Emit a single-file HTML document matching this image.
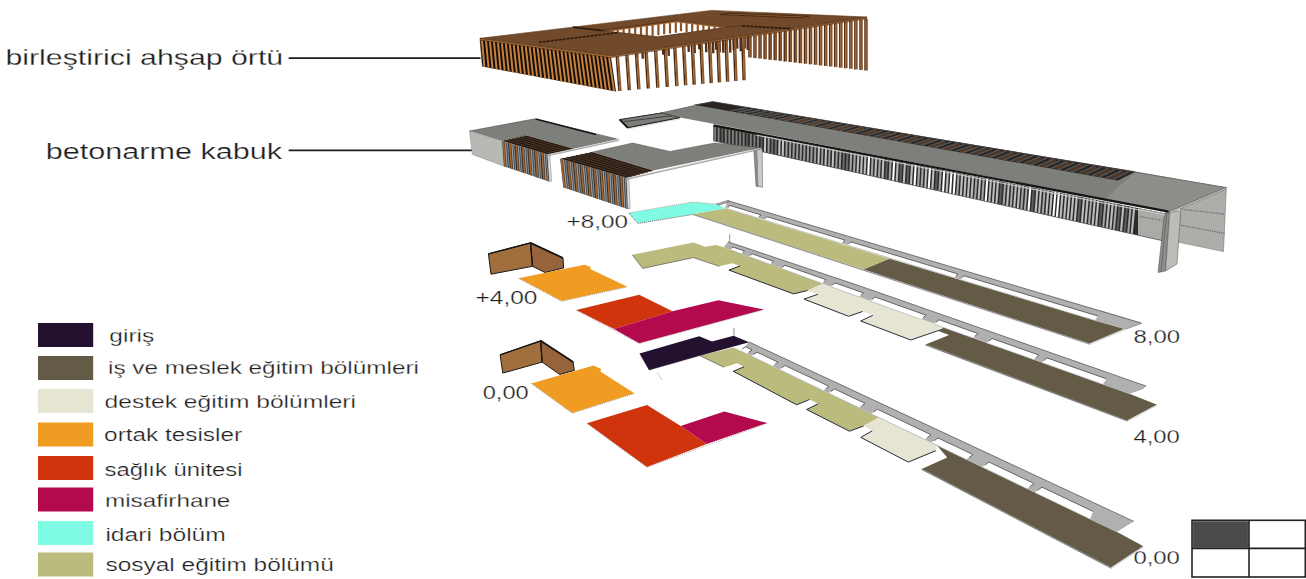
<!DOCTYPE html>
<html><head><meta charset="utf-8"><title>exploded axonometric</title>
<style>html,body{margin:0;padding:0;background:#fff;overflow:hidden}svg{display:block}</style></head><body>
<svg width="1306" height="579" viewBox="0 0 1306 579">
<rect width="1306" height="579" fill="#fff"/>
<polygon points="699.9,355.7 733.6,347.5 878.8,417.4 863.6,426.0 849.4,431.2 806.6,409.5 818.3,403.8 809.5,399.5 796.7,404.8 733.3,371.3 744.0,366.8 737.1,363.3 724.1,367.3" fill="#babb7c" />
<polyline points="699.9,355.7 724.1,367.3" fill="none" stroke="#555" stroke-width="0.7" />
<polyline points="744.0,366.8 733.3,371.3 796.7,404.8 809.5,399.5" fill="none" stroke="#2a2a3a" stroke-width="1.0" />
<polyline points="818.3,403.8 806.6,409.5 849.4,431.2 863.6,426.0" fill="none" stroke="#2a2a3a" stroke-width="1.0" />
<polygon points="878.8,417.4 936.8,445.3 935.8,450.7 908.3,462.1 860.8,437.4 872.2,430.8 863.6,426.0" fill="#e6e5d3" />
<polyline points="872.2,430.8 860.8,437.4 908.3,462.1 935.8,450.7" fill="none" stroke="#2a2a3a" stroke-width="1.0" />
<polygon points="936.8,445.3 1119.0,533.0 1143.4,546.3 1111.2,567.7 921.6,469.0 947.2,457.4" fill="#635b46" />
<polyline points="921.6,469.4 1111.2,568.2 1143.4,546.8" fill="none" stroke="#d8d8d8" stroke-width="1.4" />
<polyline points="921.6,469.2 1111.2,568.0" fill="none" stroke="#333" stroke-width="0.6" />
<polygon points="748.9,341.9 1097.0,504.2 1097.0,522.4 741.0,351.1" fill="#b0b0b0" />
<polygon points="745.5,346.8 752.0,349.9 746.5,353.7 740.0,350.6" fill="#fff" />
<polyline points="742.2,349.1 745.5,346.8 752.0,349.9 748.7,352.2" fill="none" stroke="#4a4a4a" stroke-width="0.8" />
<line x1="740.0" y1="350.6" x2="746.5" y2="353.7" stroke="#999" stroke-width="0.5" />
<polygon points="757.0,352.2 778.0,362.2 772.4,366.2 751.4,356.1" fill="#fff" />
<polyline points="753.7,354.5 757.0,352.2 778.0,362.2 774.7,364.6" fill="none" stroke="#4a4a4a" stroke-width="0.8" />
<line x1="751.4" y1="356.1" x2="772.4" y2="366.2" stroke="#999" stroke-width="0.5" />
<polygon points="785.0,365.5 829.0,386.3 823.3,390.7 779.3,369.5" fill="#fff" />
<polyline points="781.6,367.9 785.0,365.5 829.0,386.3 825.6,388.9" fill="none" stroke="#4a4a4a" stroke-width="0.8" />
<line x1="779.3" y1="369.5" x2="823.3" y2="390.7" stroke="#999" stroke-width="0.5" />
<polygon points="834.5,388.9 865.0,403.4 858.9,407.8 828.4,393.1" fill="#fff" />
<polyline points="830.9,391.5 834.5,388.9 865.0,403.4 861.4,406.1" fill="none" stroke="#4a4a4a" stroke-width="0.8" />
<line x1="828.4" y1="393.1" x2="858.9" y2="407.8" stroke="#999" stroke-width="0.5" />
<polygon points="877.5,409.3 931.0,434.7 924.7,439.5 871.2,413.7" fill="#fff" />
<polyline points="873.7,412.0 877.5,409.3 931.0,434.7 927.2,437.5" fill="none" stroke="#4a4a4a" stroke-width="0.8" />
<line x1="871.2" y1="413.7" x2="924.7" y2="439.5" stroke="#999" stroke-width="0.5" />
<polygon points="938.0,438.0 973.0,454.6 966.3,459.5 931.3,442.6" fill="#fff" />
<polyline points="934.0,440.8 938.0,438.0 973.0,454.6 969.0,457.5" fill="none" stroke="#4a4a4a" stroke-width="0.8" />
<line x1="931.3" y1="442.6" x2="966.3" y2="459.5" stroke="#999" stroke-width="0.5" />
<polygon points="989.0,462.1 1034.0,483.5 1027.0,488.7 982.0,467.0" fill="#fff" />
<polyline points="984.8,465.1 989.0,462.1 1034.0,483.5 1029.8,486.6" fill="none" stroke="#4a4a4a" stroke-width="0.8" />
<line x1="982.0" y1="467.0" x2="1027.0" y2="488.7" stroke="#999" stroke-width="0.5" />
<polygon points="1042.0,487.2 1097.0,513.3 1089.6,518.9 1034.6,492.4" fill="#fff" />
<polyline points="1037.6,490.3 1042.0,487.2 1097.0,513.3 1092.6,516.6" fill="none" stroke="#4a4a4a" stroke-width="0.8" />
<line x1="1034.6" y1="492.4" x2="1089.6" y2="518.9" stroke="#999" stroke-width="0.5" />
<polygon points="1096.0,503.8 1133.6,521.6 1116.4,532.2 1119.0,533.0 1090.0,519.5" fill="#b0b0b0" />
<polyline points="748.9,341.9 1097.0,504.2 1133.9,521.4" fill="none" stroke="#5a5a5a" stroke-width="0.8" />
<polygon points="639.5,353.5 699.1,336.2 712.0,341.4 733.6,335.7 749.2,342.3 699.9,355.7 649.0,370.2" fill="#24112f" />
<polyline points="639.5,353.5 649.0,370.4 699.9,355.9" fill="none" stroke="#999" stroke-width="0.6" stroke-dasharray="1 1"/>
<line x1="734.0" y1="327.8" x2="734.0" y2="336.0" stroke="#777" stroke-width="0.8" />
<line x1="657.0" y1="372.0" x2="662.0" y2="380.0" stroke="#aaa" stroke-width="0.6" />
<polygon points="632.3,254.8 693.4,242.5 705.2,246.7 716.1,244.9 723.7,247.3 823.0,283.7 807.5,290.5 793.6,293.9 728.9,270.1 740.1,265.9 732.3,263.2 719.4,266.3 693.4,257.6 642.7,268.4" fill="#babb7c" />
<polyline points="632.3,254.8 642.7,268.4 693.4,257.6 719.4,266.3" fill="none" stroke="#555" stroke-width="0.7" />
<polyline points="740.1,265.9 728.9,270.1 793.6,293.9 807.5,290.5" fill="none" stroke="#2a2a3a" stroke-width="1.0" />
<polygon points="823.0,283.7 943.6,327.5 910.8,340.0 860.7,321.0 872.8,315.3 862.5,311.5 848.6,316.3 804.0,299.1 817.8,294.3 807.5,290.5" fill="#e6e5d3" />
<polyline points="817.8,294.3 804.0,299.1 848.6,316.3 862.5,311.5" fill="none" stroke="#2a2a3a" stroke-width="1.0" />
<polyline points="872.8,315.3 860.7,321.0 910.8,340.0 943.6,328.7" fill="none" stroke="#2a2a3a" stroke-width="1.0" />
<polygon points="943.6,327.5 1131.2,394.4 1157.1,404.7 1127.4,420.7 925.5,344.6 949.2,335.1 938.9,331.3" fill="#635b46" />
<polyline points="925.5,345.0 1127.4,421.1 1157.1,405.1" fill="none" stroke="#d8d8d8" stroke-width="1.4" />
<polyline points="925.5,344.8 1127.4,420.9" fill="none" stroke="#333" stroke-width="0.6" />
<polygon points="728.0,241.8 860.0,286.0 1108.0,372.7 1108.0,386.1 860.0,297.3 723.7,247.3" fill="#b0b0b0" />
<polygon points="733.0,247.1 744.5,251.1 741.4,253.8 729.9,249.6" fill="#fff" />
<polyline points="731.2,248.6 733.0,247.1 744.5,251.1 742.7,252.7" fill="none" stroke="#4a4a4a" stroke-width="0.8" />
<line x1="729.9" y1="249.6" x2="741.4" y2="253.8" stroke="#999" stroke-width="0.5" />
<polygon points="752.0,253.8 773.5,261.3 770.2,264.4 748.7,256.5" fill="#fff" />
<polyline points="750.0,255.4 752.0,253.8 773.5,261.3 771.5,263.1" fill="none" stroke="#4a4a4a" stroke-width="0.8" />
<line x1="748.7" y1="256.5" x2="770.2" y2="264.4" stroke="#999" stroke-width="0.5" />
<polygon points="785.0,265.3 826.0,279.7 822.2,283.5 781.2,268.4" fill="#fff" />
<polyline points="782.7,267.2 785.0,265.3 826.0,279.7 823.7,282.0" fill="none" stroke="#4a4a4a" stroke-width="0.8" />
<line x1="781.2" y1="268.4" x2="822.2" y2="283.5" stroke="#999" stroke-width="0.5" />
<polygon points="835.0,282.9 863.5,292.9 859.0,297.0 830.5,286.5" fill="#fff" />
<polyline points="832.3,285.1 835.0,282.9 863.5,292.9 860.8,295.3" fill="none" stroke="#4a4a4a" stroke-width="0.8" />
<line x1="830.5" y1="286.5" x2="859.0" y2="297.0" stroke="#999" stroke-width="0.5" />
<polygon points="875.0,297.0 926.0,315.2 921.1,319.5 870.1,301.0" fill="#fff" />
<polyline points="872.0,299.4 875.0,297.0 926.0,315.2 923.0,317.8" fill="none" stroke="#4a4a4a" stroke-width="0.8" />
<line x1="870.1" y1="301.0" x2="921.1" y2="319.5" stroke="#999" stroke-width="0.5" />
<polygon points="939.0,319.8 978.0,333.5 972.8,337.9 933.8,324.0" fill="#fff" />
<polyline points="935.9,322.3 939.0,319.8 978.0,333.5 974.9,336.2" fill="none" stroke="#4a4a4a" stroke-width="0.8" />
<line x1="933.8" y1="324.0" x2="972.8" y2="337.9" stroke="#999" stroke-width="0.5" />
<polygon points="992.0,338.5 1039.0,355.1 1033.6,359.6 986.6,342.9" fill="#fff" />
<polyline points="988.8,341.1 992.0,338.5 1039.0,355.1 1035.8,357.8" fill="none" stroke="#4a4a4a" stroke-width="0.8" />
<line x1="986.6" y1="342.9" x2="1033.6" y2="359.6" stroke="#999" stroke-width="0.5" />
<polygon points="1047.0,357.9 1108.0,379.4 1102.5,384.2 1041.5,362.4" fill="#fff" />
<polyline points="1043.7,360.6 1047.0,357.9 1108.0,379.4 1104.7,382.3" fill="none" stroke="#4a4a4a" stroke-width="0.8" />
<line x1="1041.5" y1="362.4" x2="1102.5" y2="384.2" stroke="#999" stroke-width="0.5" />
<polygon points="1108.0,373.0 1146.2,386.1 1142.8,389.2 1129.9,393.8 1131.2,394.4 1104.0,385.0" fill="#b0b0b0" />
<polyline points="728.0,241.8 860.0,286.0 1108.0,372.7 1146.2,386.1" fill="none" stroke="#5a5a5a" stroke-width="0.8" />
<line x1="729.7" y1="234.3" x2="729.7" y2="242.0" stroke="#777" stroke-width="0.8" />
<polygon points="628.7,212.9 692.6,202.0 717.4,204.2 725.7,208.6 692.6,214.3 637.9,223.3" fill="#7ffbe3" />
<polyline points="628.7,212.9 637.9,223.4 692.6,214.5" fill="none" stroke="#555" stroke-width="0.8" stroke-dasharray="1.2 0.8"/>
<polyline points="628.7,212.9 692.6,202.0 717.4,204.2" fill="none" stroke="#a55" stroke-width="0.5" stroke-dasharray="1 1"/>
<polygon points="692.6,214.3 725.7,208.6 889.6,258.7 863.7,269.6" fill="#babb7c" />
<polygon points="889.6,258.7 1094.9,320.5 1124.7,329.1 1089.7,343.8 863.7,269.6" fill="#635b46" />
<polyline points="692.5,214.4 1089.7,344.2 1124.7,329.5" fill="none" stroke="#d8d8d8" stroke-width="1.4" />
<polyline points="692.5,214.2 1089.7,344.0" fill="none" stroke="#444" stroke-width="0.5" />
<polygon points="727.3,200.5 1101.0,311.1 1101.0,322.4 725.2,208.0" fill="#b0b0b0" />
<polygon points="730.0,205.5 761.0,214.9 757.7,217.9 726.7,208.4" fill="#fff" />
<polyline points="728.0,207.3 730.0,205.5 761.0,214.9 759.0,216.7" fill="none" stroke="#4a4a4a" stroke-width="0.8" />
<line x1="726.7" y1="208.4" x2="757.7" y2="217.9" stroke="#999" stroke-width="0.5" />
<polygon points="767.0,216.7 845.0,240.1 841.5,243.4 763.5,219.7" fill="#fff" />
<polyline points="764.9,218.5 767.0,216.7 845.0,240.1 842.9,242.1" fill="none" stroke="#4a4a4a" stroke-width="0.8" />
<line x1="763.5" y1="219.7" x2="841.5" y2="243.4" stroke="#999" stroke-width="0.5" />
<polygon points="851.0,241.9 958.0,274.0 954.3,277.7 847.3,245.1" fill="#fff" />
<polyline points="848.8,243.8 851.0,241.9 958.0,274.0 955.8,276.2" fill="none" stroke="#4a4a4a" stroke-width="0.8" />
<line x1="847.3" y1="245.1" x2="954.3" y2="277.7" stroke="#999" stroke-width="0.5" />
<polygon points="964.0,275.8 1101.0,316.9 1096.9,321.1 959.9,279.4" fill="#fff" />
<polyline points="961.5,278.0 964.0,275.8 1101.0,316.9 1098.5,319.4" fill="none" stroke="#4a4a4a" stroke-width="0.8" />
<line x1="959.9" y1="279.4" x2="1096.9" y2="321.1" stroke="#999" stroke-width="0.5" />
<polygon points="1101.0,310.5 1141.6,323.1 1124.7,329.1 1095.0,320.6" fill="#b0b0b0" />
<polyline points="727.3,200.5 1101.0,311.1 1141.6,323.1" fill="none" stroke="#5a5a5a" stroke-width="0.8" />
<polygon points="716.5,203.9 727.5,200.6 730.0,201.5 719.0,205.2" fill="#b0b0b0" stroke="#555" stroke-width="0.5" />
<polyline points="1141.6,323.4 1124.7,329.4" fill="none" stroke="#666" stroke-width="0.7" />
<polygon points="488.4,253.9 530.5,242.9 532.5,266.3 491.0,274.2" fill="#a16e3e" stroke="#1a1a1a" stroke-width="1.0" />
<polygon points="530.5,242.9 563.0,258.0 563.6,268.0 545.0,272.5 532.5,266.3" fill="#97633a" stroke="#1a1a1a" stroke-width="1.0" />
<line x1="530.5" y1="242.9" x2="563.0" y2="258.0" stroke="#151515" stroke-width="1.8" />
<line x1="488.4" y1="253.9" x2="530.5" y2="242.9" stroke="#151515" stroke-width="1.3" />
<line x1="530.5" y1="242.9" x2="532.5" y2="266.3" stroke="#151515" stroke-width="1.2" />
<polygon points="518.7,278.3 584.4,264.7 590.2,266.7 590.8,269.3 627.4,286.7 561.7,301.0" fill="#f09b22" />
<polyline points="518.7,278.5 561.7,301.4 627.4,287.1" fill="none" stroke="#8a8a8a" stroke-width="1.0" stroke-dasharray="0.7 1.3"/>
<polygon points="576.3,310.0 639.2,294.8 672.5,311.2 613.9,328.9" fill="#d0340c" />
<polygon points="613.9,328.9 672.5,311.2 718.4,300.2 763.8,309.5 639.2,343.2" fill="#b3094d" />
<polyline points="576.3,310.2 639.2,343.6 763.8,309.9" fill="none" stroke="#8a8a8a" stroke-width="1.0" stroke-dasharray="0.7 1.3"/>
<polygon points="500.1,354.9 540.7,340.8 542.1,362.1 502.8,373.1" fill="#a16e3e" stroke="#1a1a1a" stroke-width="1.0" />
<polygon points="540.7,340.8 573.2,362.1 574.3,370.4 559.8,374.5 542.1,362.1" fill="#97633a" stroke="#1a1a1a" stroke-width="1.0" />
<line x1="540.7" y1="340.8" x2="573.2" y2="362.1" stroke="#151515" stroke-width="1.8" />
<line x1="500.1" y1="354.9" x2="540.7" y2="340.8" stroke="#151515" stroke-width="1.3" />
<line x1="540.7" y1="340.8" x2="542.1" y2="362.1" stroke="#151515" stroke-width="1.2" />
<polygon points="531.4,383.4 593.5,365.6 601.2,368.9 600.4,371.6 634.3,393.2 572.2,412.9" fill="#f09b22" />
<polyline points="531.4,383.6 572.2,413.3 634.3,393.6" fill="none" stroke="#8a8a8a" stroke-width="1.0" stroke-dasharray="0.7 1.3"/>
<polygon points="586.9,423.3 647.0,405.0 680.7,426.1 706.7,444.0 647.0,467.0" fill="#d0340c" />
<polygon points="680.7,426.1 724.3,411.5 767.2,423.0 706.7,444.0" fill="#b3094d" />
<polyline points="586.9,423.5 647.0,467.4 767.2,423.4" fill="none" stroke="#8a8a8a" stroke-width="1.0" stroke-dasharray="0.7 1.3"/>
<polygon points="1180.8,208.0 1226.3,189.0 1223.5,251.6 1177.9,242.1" fill="#acaeaa" stroke="#666" stroke-width="0.5" />
<line x1="1181.5" y1="209.2" x2="1225.0" y2="214.2" stroke="#6a6a6a" stroke-width="1.3" stroke-dasharray="1.2 1.1"/>
<line x1="1180.5" y1="225.2" x2="1224.5" y2="233.4" stroke="#6a6a6a" stroke-width="1.3" stroke-dasharray="1.2 1.1"/>
<polygon points="713.3,125.6 1164.6,213.2 1162.0,240.6 713.3,140.8" fill="#2b2b2a" />
<line x1="715.1" y1="125.9" x2="715.1" y2="141.2" stroke="#7e807d" stroke-width="1.9" />
<line x1="718.7" y1="126.6" x2="718.6" y2="142.0" stroke="#7e807d" stroke-width="1.9" />
<line x1="722.3" y1="127.3" x2="722.2" y2="142.8" stroke="#5a5c59" stroke-width="1.9" />
<line x1="725.8" y1="128.0" x2="725.8" y2="143.6" stroke="#7e807d" stroke-width="1.9" />
<line x1="729.4" y1="128.7" x2="729.3" y2="144.4" stroke="#7e807d" stroke-width="1.9" />
<line x1="733.0" y1="129.4" x2="732.9" y2="145.2" stroke="#7e807d" stroke-width="1.9" />
<line x1="736.6" y1="130.1" x2="736.4" y2="145.9" stroke="#7e807d" stroke-width="1.9" />
<line x1="740.2" y1="130.8" x2="740.0" y2="146.7" stroke="#7e807d" stroke-width="1.9" />
<line x1="743.7" y1="131.5" x2="743.6" y2="147.5" stroke="#7e807d" stroke-width="1.9" />
<line x1="747.3" y1="132.2" x2="747.1" y2="148.3" stroke="#5a5c59" stroke-width="1.9" />
<line x1="750.9" y1="132.9" x2="750.7" y2="149.1" stroke="#7e807d" stroke-width="1.9" />
<line x1="754.5" y1="133.6" x2="754.3" y2="149.9" stroke="#7e807d" stroke-width="1.9" />
<line x1="758.1" y1="134.3" x2="757.8" y2="150.7" stroke="#7e807d" stroke-width="1.9" />
<line x1="761.7" y1="135.0" x2="761.4" y2="151.5" stroke="#5a5c59" stroke-width="1.9" />
<line x1="765.2" y1="135.7" x2="764.9" y2="152.3" stroke="#c4c6c3" stroke-width="2.0" />
<line x1="768.8" y1="136.4" x2="768.5" y2="153.1" stroke="#9a9c99" stroke-width="2.0" />
<line x1="772.4" y1="137.1" x2="772.1" y2="153.9" stroke="#6a6c69" stroke-width="2.0" />
<line x1="776.0" y1="137.8" x2="775.6" y2="154.7" stroke="#6a6c69" stroke-width="2.0" />
<line x1="779.6" y1="138.5" x2="779.2" y2="155.5" stroke="#c4c6c3" stroke-width="2.0" />
<line x1="783.1" y1="139.2" x2="782.7" y2="156.2" stroke="#c4c6c3" stroke-width="2.0" />
<line x1="786.7" y1="139.9" x2="786.3" y2="157.0" stroke="#9a9c99" stroke-width="2.0" />
<line x1="790.3" y1="140.5" x2="789.9" y2="157.8" stroke="#9a9c99" stroke-width="2.0" />
<line x1="793.9" y1="141.2" x2="793.4" y2="158.6" stroke="#9a9c99" stroke-width="2.0" />
<line x1="797.5" y1="141.9" x2="797.0" y2="159.4" stroke="#9a9c99" stroke-width="2.0" />
<line x1="801.1" y1="142.6" x2="800.5" y2="160.2" stroke="#9a9c99" stroke-width="2.0" />
<line x1="804.6" y1="143.3" x2="804.1" y2="161.0" stroke="#9a9c99" stroke-width="2.0" />
<line x1="808.2" y1="144.0" x2="807.7" y2="161.8" stroke="#9a9c99" stroke-width="2.0" />
<line x1="811.8" y1="144.7" x2="811.2" y2="162.6" stroke="#9a9c99" stroke-width="2.0" />
<line x1="815.4" y1="145.4" x2="814.8" y2="163.4" stroke="#9a9c99" stroke-width="2.0" />
<line x1="819.0" y1="146.1" x2="818.4" y2="164.2" stroke="#c4c6c3" stroke-width="2.0" />
<line x1="822.5" y1="146.8" x2="821.9" y2="165.0" stroke="#9a9c99" stroke-width="2.0" />
<line x1="826.1" y1="147.5" x2="825.5" y2="165.8" stroke="#c4c6c3" stroke-width="2.0" />
<line x1="829.7" y1="148.2" x2="829.0" y2="166.5" stroke="#9a9c99" stroke-width="2.0" />
<line x1="833.3" y1="148.9" x2="832.6" y2="167.3" stroke="#c4c6c3" stroke-width="2.0" />
<line x1="836.9" y1="149.6" x2="836.2" y2="168.1" stroke="#9a9c99" stroke-width="2.0" />
<line x1="840.5" y1="150.3" x2="839.7" y2="168.9" stroke="#9a9c99" stroke-width="2.0" />
<line x1="844.0" y1="151.0" x2="843.3" y2="169.7" stroke="#6a6c69" stroke-width="2.0" />
<line x1="847.6" y1="151.7" x2="846.8" y2="170.5" stroke="#6a6c69" stroke-width="2.0" />
<line x1="851.2" y1="152.4" x2="850.4" y2="171.3" stroke="#a2a4a1" stroke-width="2.1" />
<line x1="854.8" y1="153.1" x2="854.0" y2="172.1" stroke="#a2a4a1" stroke-width="2.1" />
<line x1="858.4" y1="153.8" x2="857.5" y2="172.9" stroke="#bcbebb" stroke-width="2.1" />
<line x1="861.9" y1="154.5" x2="861.1" y2="173.7" stroke="#bcbebb" stroke-width="2.1" />
<line x1="865.5" y1="155.1" x2="864.6" y2="174.5" stroke="#bcbebb" stroke-width="2.1" />
<line x1="869.1" y1="155.8" x2="868.2" y2="175.3" stroke="#ffffff" stroke-width="2.1" />
<line x1="872.7" y1="156.5" x2="871.8" y2="176.0" stroke="#a2a4a1" stroke-width="2.1" />
<line x1="876.3" y1="157.2" x2="875.3" y2="176.8" stroke="#bcbebb" stroke-width="2.1" />
<line x1="879.9" y1="157.9" x2="878.9" y2="177.6" stroke="#a2a4a1" stroke-width="2.1" />
<line x1="883.4" y1="158.6" x2="882.5" y2="178.4" stroke="#bcbebb" stroke-width="2.1" />
<line x1="887.0" y1="159.3" x2="886.0" y2="179.2" stroke="#5a5c59" stroke-width="2.1" />
<line x1="890.6" y1="160.0" x2="889.6" y2="180.0" stroke="#a2a4a1" stroke-width="2.1" />
<line x1="894.2" y1="160.7" x2="893.1" y2="180.8" stroke="#ffffff" stroke-width="2.1" />
<line x1="897.8" y1="161.4" x2="896.7" y2="181.6" stroke="#bcbebb" stroke-width="2.1" />
<line x1="901.3" y1="162.1" x2="900.3" y2="182.4" stroke="#5a5c59" stroke-width="2.1" />
<line x1="904.9" y1="162.8" x2="903.8" y2="183.2" stroke="#bcbebb" stroke-width="2.1" />
<line x1="908.5" y1="163.5" x2="907.4" y2="184.0" stroke="#5a5c59" stroke-width="2.1" />
<line x1="912.1" y1="164.2" x2="910.9" y2="184.8" stroke="#bcbebb" stroke-width="2.1" />
<line x1="915.7" y1="164.9" x2="914.5" y2="185.6" stroke="#ffffff" stroke-width="2.1" />
<line x1="919.3" y1="165.6" x2="918.1" y2="186.3" stroke="#a2a4a1" stroke-width="2.1" />
<line x1="922.8" y1="166.3" x2="921.6" y2="187.1" stroke="#a2a4a1" stroke-width="2.1" />
<line x1="926.4" y1="167.0" x2="925.2" y2="187.9" stroke="#bcbebb" stroke-width="2.1" />
<line x1="930.0" y1="167.7" x2="928.7" y2="188.7" stroke="#ffffff" stroke-width="2.1" />
<line x1="933.6" y1="168.4" x2="932.3" y2="189.5" stroke="#bcbebb" stroke-width="2.1" />
<line x1="937.2" y1="169.1" x2="935.9" y2="190.3" stroke="#5a5c59" stroke-width="2.1" />
<line x1="940.7" y1="169.7" x2="939.4" y2="191.1" stroke="#a2a4a1" stroke-width="2.1" />
<line x1="944.3" y1="170.4" x2="943.0" y2="191.9" stroke="#ffffff" stroke-width="2.1" />
<line x1="947.9" y1="171.1" x2="946.6" y2="192.7" stroke="#bcbebb" stroke-width="2.1" />
<line x1="951.5" y1="171.8" x2="950.1" y2="193.5" stroke="#ffffff" stroke-width="2.1" />
<line x1="955.1" y1="172.5" x2="953.7" y2="194.3" stroke="#ffffff" stroke-width="2.1" />
<line x1="958.6" y1="173.2" x2="957.2" y2="195.1" stroke="#a2a4a1" stroke-width="2.1" />
<line x1="962.2" y1="173.9" x2="960.8" y2="195.8" stroke="#bcbebb" stroke-width="2.1" />
<line x1="965.8" y1="174.6" x2="964.4" y2="196.6" stroke="#bcbebb" stroke-width="2.1" />
<line x1="969.4" y1="175.3" x2="967.9" y2="197.4" stroke="#bcbebb" stroke-width="2.1" />
<line x1="973.0" y1="176.0" x2="971.5" y2="198.2" stroke="#bcbebb" stroke-width="2.1" />
<line x1="976.6" y1="176.7" x2="975.0" y2="199.0" stroke="#a2a4a1" stroke-width="2.1" />
<line x1="980.1" y1="177.4" x2="978.6" y2="199.8" stroke="#bcbebb" stroke-width="2.1" />
<line x1="983.7" y1="178.1" x2="982.2" y2="200.6" stroke="#a2a4a1" stroke-width="2.1" />
<line x1="987.3" y1="178.8" x2="985.7" y2="201.4" stroke="#ffffff" stroke-width="2.1" />
<line x1="990.9" y1="179.5" x2="989.3" y2="202.2" stroke="#bcbebb" stroke-width="2.1" />
<line x1="994.5" y1="180.2" x2="992.8" y2="203.0" stroke="#bcbebb" stroke-width="2.1" />
<line x1="998.0" y1="180.9" x2="996.4" y2="203.8" stroke="#bcbebb" stroke-width="2.1" />
<line x1="1001.6" y1="181.6" x2="1000.0" y2="204.6" stroke="#5a5c59" stroke-width="2.1" />
<line x1="1005.2" y1="182.3" x2="1003.5" y2="205.4" stroke="#a2a4a1" stroke-width="2.1" />
<line x1="1008.8" y1="183.0" x2="1007.1" y2="206.1" stroke="#bcbebb" stroke-width="2.1" />
<line x1="1012.4" y1="183.7" x2="1010.7" y2="206.9" stroke="#a2a4a1" stroke-width="2.1" />
<line x1="1016.0" y1="184.3" x2="1014.2" y2="207.7" stroke="#bcbebb" stroke-width="2.1" />
<line x1="1019.5" y1="185.0" x2="1017.8" y2="208.5" stroke="#bcbebb" stroke-width="2.1" />
<line x1="1023.1" y1="185.7" x2="1021.3" y2="209.3" stroke="#a2a4a1" stroke-width="2.1" />
<line x1="1026.7" y1="186.4" x2="1024.9" y2="210.1" stroke="#a2a4a1" stroke-width="2.1" />
<line x1="1030.3" y1="187.1" x2="1028.5" y2="210.9" stroke="#ffffff" stroke-width="2.1" />
<line x1="1033.9" y1="187.8" x2="1032.0" y2="211.7" stroke="#5a5c59" stroke-width="2.1" />
<line x1="1037.4" y1="188.5" x2="1035.6" y2="212.5" stroke="#bcbebb" stroke-width="2.1" />
<line x1="1041.0" y1="189.2" x2="1039.1" y2="213.3" stroke="#bcbebb" stroke-width="2.1" />
<line x1="1044.6" y1="189.9" x2="1042.7" y2="214.1" stroke="#a2a4a1" stroke-width="2.1" />
<line x1="1048.2" y1="190.6" x2="1046.3" y2="214.9" stroke="#bcbebb" stroke-width="2.1" />
<line x1="1051.8" y1="191.3" x2="1049.8" y2="215.7" stroke="#bcbebb" stroke-width="2.1" />
<line x1="1055.4" y1="192.0" x2="1053.4" y2="216.4" stroke="#ffffff" stroke-width="2.1" />
<line x1="1058.9" y1="192.7" x2="1056.9" y2="217.2" stroke="#ffffff" stroke-width="2.1" />
<line x1="1062.5" y1="193.4" x2="1060.5" y2="218.0" stroke="#bcbebb" stroke-width="2.1" />
<line x1="1066.1" y1="194.1" x2="1064.1" y2="218.8" stroke="#bcbebb" stroke-width="2.1" />
<line x1="1069.7" y1="194.8" x2="1067.6" y2="219.6" stroke="#bcbebb" stroke-width="2.1" />
<line x1="1073.3" y1="195.5" x2="1071.2" y2="220.4" stroke="#bcbebb" stroke-width="2.1" />
<line x1="1076.8" y1="196.2" x2="1074.8" y2="221.2" stroke="#bcbebb" stroke-width="2.1" />
<line x1="1080.4" y1="196.9" x2="1078.3" y2="222.0" stroke="#5a5c59" stroke-width="2.1" />
<line x1="1084.0" y1="197.6" x2="1081.9" y2="222.8" stroke="#bcbebb" stroke-width="2.1" />
<line x1="1087.6" y1="198.3" x2="1085.4" y2="223.6" stroke="#bcbebb" stroke-width="2.1" />
<line x1="1091.2" y1="198.9" x2="1089.0" y2="224.4" stroke="#a2a4a1" stroke-width="2.1" />
<line x1="1094.8" y1="199.6" x2="1092.6" y2="225.2" stroke="#bcbebb" stroke-width="2.1" />
<line x1="1098.3" y1="200.3" x2="1096.1" y2="225.9" stroke="#bcbebb" stroke-width="2.1" />
<line x1="1101.9" y1="201.0" x2="1099.7" y2="226.7" stroke="#5a5c59" stroke-width="2.1" />
<line x1="1105.5" y1="201.7" x2="1103.2" y2="227.5" stroke="#a2a4a1" stroke-width="2.1" />
<line x1="1109.1" y1="202.4" x2="1106.8" y2="228.3" stroke="#bcbebb" stroke-width="2.1" />
<line x1="1112.7" y1="203.1" x2="1110.4" y2="229.1" stroke="#bcbebb" stroke-width="2.1" />
<line x1="1116.2" y1="203.8" x2="1113.9" y2="229.9" stroke="#a2a4a1" stroke-width="2.1" />
<line x1="1119.8" y1="204.5" x2="1117.5" y2="230.7" stroke="#5a5c59" stroke-width="2.1" />
<line x1="1123.4" y1="205.2" x2="1121.0" y2="231.5" stroke="#bcbebb" stroke-width="2.1" />
<line x1="1127.0" y1="205.9" x2="1124.6" y2="232.3" stroke="#5a5c59" stroke-width="2.1" />
<line x1="1130.6" y1="206.6" x2="1128.2" y2="233.1" stroke="#a2a4a1" stroke-width="2.1" />
<line x1="1134.2" y1="207.3" x2="1131.7" y2="233.9" stroke="#bcbebb" stroke-width="2.1" />
<polygon points="1138.0,208.1 1164.6,213.2 1162.0,240.6 1138.0,235.3" fill="#a9aba7" />
<line x1="1140.0" y1="216.5" x2="1162.0" y2="220.5" stroke="#666" stroke-width="1.1" stroke-dasharray="1.2 1.2"/>
<line x1="726.5" y1="128.4" x2="752.0" y2="133.3" stroke="#b06a2c" stroke-width="1.2" />
<line x1="713.3" y1="140.8" x2="1162.0" y2="240.6" stroke="#444" stroke-width="0.6" />
<polygon points="1164.6,213.0 1169.7,212.0 1165.6,271.0 1158.0,272.5" fill="#8c8e8a" stroke="#444" stroke-width="0.5" />
<polygon points="1169.7,212.0 1180.8,210.8 1177.0,264.0 1165.6,271.0" fill="#babcb8" stroke="#555" stroke-width="0.5" />
<line x1="1166.8" y1="213.0" x2="1161.0" y2="272.0" stroke="#555" stroke-width="0.6" />
<polygon points="661.3,112.8 712.6,101.5 1226.4,187.5 1169.7,211.4 680.3,117.5" fill="#7d7f7b" />
<polygon points="1135.9,171.6 1226.4,187.5 1169.7,211.4 1105.0,199.0" fill="#8e908c" opacity="0.9"/>
<polygon points="693.6,104.8 712.6,101.5 1135.9,171.6 1117.7,180.4" fill="#2a2522" />
<line x1="746.2" y1="107.9" x2="729.5" y2="111.2" stroke="#555553" stroke-width="1.5" />
<line x1="753.0" y1="109.0" x2="736.4" y2="112.4" stroke="#555553" stroke-width="1.5" />
<line x1="759.8" y1="110.2" x2="743.2" y2="113.6" stroke="#555553" stroke-width="1.5" />
<line x1="766.7" y1="111.3" x2="750.0" y2="114.9" stroke="#555553" stroke-width="1.5" />
<line x1="773.5" y1="112.5" x2="756.9" y2="116.1" stroke="#555553" stroke-width="1.5" />
<line x1="780.3" y1="113.6" x2="763.7" y2="117.3" stroke="#555553" stroke-width="1.5" />
<line x1="787.1" y1="114.7" x2="770.6" y2="118.5" stroke="#555553" stroke-width="1.5" />
<line x1="794.0" y1="115.9" x2="777.4" y2="119.7" stroke="#555553" stroke-width="1.5" />
<line x1="795.9" y1="116.8" x2="781.8" y2="120.1" stroke="#5e3a22" stroke-width="1.5" />
<line x1="800.8" y1="117.0" x2="784.2" y2="121.0" stroke="#555553" stroke-width="1.5" />
<line x1="807.6" y1="118.2" x2="791.1" y2="122.2" stroke="#555553" stroke-width="1.5" />
<line x1="809.5" y1="119.1" x2="795.4" y2="122.6" stroke="#5e3a22" stroke-width="1.5" />
<line x1="814.5" y1="119.3" x2="797.9" y2="123.4" stroke="#555553" stroke-width="1.5" />
<line x1="821.3" y1="120.4" x2="804.8" y2="124.6" stroke="#555553" stroke-width="1.5" />
<line x1="823.2" y1="121.4" x2="809.1" y2="125.0" stroke="#5e3a22" stroke-width="1.5" />
<line x1="828.1" y1="121.6" x2="811.6" y2="125.8" stroke="#555553" stroke-width="1.5" />
<line x1="834.9" y1="122.7" x2="818.4" y2="127.1" stroke="#555553" stroke-width="1.5" />
<line x1="836.9" y1="123.7" x2="822.8" y2="127.4" stroke="#5e3a22" stroke-width="1.5" />
<line x1="841.8" y1="123.9" x2="825.3" y2="128.3" stroke="#555553" stroke-width="1.5" />
<line x1="848.6" y1="125.0" x2="832.1" y2="129.5" stroke="#555553" stroke-width="1.5" />
<line x1="850.5" y1="126.0" x2="836.5" y2="129.8" stroke="#5e3a22" stroke-width="1.5" />
<line x1="855.4" y1="126.1" x2="839.0" y2="130.7" stroke="#555553" stroke-width="1.5" />
<line x1="862.3" y1="127.3" x2="845.8" y2="131.9" stroke="#555553" stroke-width="1.5" />
<line x1="864.2" y1="128.3" x2="850.2" y2="132.3" stroke="#5e3a22" stroke-width="1.5" />
<line x1="869.1" y1="128.4" x2="852.6" y2="133.2" stroke="#555553" stroke-width="1.5" />
<line x1="875.9" y1="129.6" x2="859.5" y2="134.4" stroke="#555553" stroke-width="1.5" />
<line x1="877.8" y1="130.6" x2="863.8" y2="134.7" stroke="#5e3a22" stroke-width="1.5" />
<line x1="882.8" y1="130.7" x2="866.3" y2="135.6" stroke="#555553" stroke-width="1.5" />
<line x1="889.6" y1="131.9" x2="873.2" y2="136.8" stroke="#555553" stroke-width="1.5" />
<line x1="891.5" y1="132.9" x2="877.5" y2="137.1" stroke="#5e3a22" stroke-width="1.5" />
<line x1="896.4" y1="133.0" x2="880.0" y2="138.0" stroke="#555553" stroke-width="1.5" />
<line x1="903.2" y1="134.1" x2="886.8" y2="139.2" stroke="#555553" stroke-width="1.5" />
<line x1="905.2" y1="135.2" x2="891.2" y2="139.6" stroke="#5e3a22" stroke-width="1.5" />
<line x1="910.1" y1="135.3" x2="893.7" y2="140.5" stroke="#555553" stroke-width="1.5" />
<line x1="916.9" y1="136.4" x2="900.5" y2="141.7" stroke="#555553" stroke-width="1.5" />
<line x1="918.8" y1="137.5" x2="904.9" y2="142.0" stroke="#5e3a22" stroke-width="1.5" />
<line x1="923.7" y1="137.6" x2="907.4" y2="142.9" stroke="#555553" stroke-width="1.5" />
<line x1="930.6" y1="138.7" x2="914.2" y2="144.1" stroke="#555553" stroke-width="1.5" />
<line x1="932.5" y1="139.8" x2="918.5" y2="144.4" stroke="#5e3a22" stroke-width="1.5" />
<line x1="937.4" y1="139.8" x2="921.0" y2="145.3" stroke="#555553" stroke-width="1.5" />
<line x1="944.2" y1="141.0" x2="927.9" y2="146.6" stroke="#555553" stroke-width="1.5" />
<line x1="946.1" y1="142.1" x2="932.2" y2="146.9" stroke="#5e3a22" stroke-width="1.5" />
<line x1="951.0" y1="142.1" x2="934.7" y2="147.8" stroke="#555553" stroke-width="1.5" />
<line x1="957.9" y1="143.3" x2="941.6" y2="149.0" stroke="#555553" stroke-width="1.5" />
<line x1="959.8" y1="144.4" x2="945.9" y2="149.3" stroke="#5e3a22" stroke-width="1.5" />
<line x1="964.7" y1="144.4" x2="948.4" y2="150.2" stroke="#555553" stroke-width="1.5" />
<line x1="971.5" y1="145.6" x2="955.2" y2="151.4" stroke="#555553" stroke-width="1.5" />
<line x1="973.5" y1="146.7" x2="959.6" y2="151.7" stroke="#5e3a22" stroke-width="1.5" />
<line x1="978.4" y1="146.7" x2="962.1" y2="152.7" stroke="#555553" stroke-width="1.5" />
<line x1="985.2" y1="147.8" x2="968.9" y2="153.9" stroke="#555553" stroke-width="1.5" />
<line x1="987.1" y1="149.0" x2="973.3" y2="154.1" stroke="#5e3a22" stroke-width="1.5" />
<line x1="992.0" y1="149.0" x2="975.8" y2="155.1" stroke="#555553" stroke-width="1.5" />
<line x1="998.8" y1="150.1" x2="982.6" y2="156.3" stroke="#555553" stroke-width="1.5" />
<line x1="1000.8" y1="151.3" x2="986.9" y2="156.6" stroke="#5e3a22" stroke-width="1.5" />
<line x1="1005.7" y1="151.3" x2="989.4" y2="157.5" stroke="#555553" stroke-width="1.5" />
<line x1="1012.5" y1="152.4" x2="996.3" y2="158.8" stroke="#555553" stroke-width="1.5" />
<line x1="1014.4" y1="153.6" x2="1000.6" y2="159.0" stroke="#5e3a22" stroke-width="1.5" />
<line x1="1019.3" y1="153.5" x2="1003.1" y2="160.0" stroke="#555553" stroke-width="1.5" />
<line x1="1026.2" y1="154.7" x2="1010.0" y2="161.2" stroke="#555553" stroke-width="1.5" />
<line x1="1028.1" y1="155.8" x2="1014.3" y2="161.4" stroke="#5e3a22" stroke-width="1.5" />
<line x1="1033.0" y1="155.8" x2="1016.8" y2="162.4" stroke="#555553" stroke-width="1.5" />
<line x1="1039.8" y1="157.0" x2="1023.6" y2="163.6" stroke="#555553" stroke-width="1.5" />
<line x1="1041.8" y1="158.1" x2="1028.0" y2="163.9" stroke="#5e3a22" stroke-width="1.5" />
<line x1="1046.6" y1="158.1" x2="1030.5" y2="164.9" stroke="#555553" stroke-width="1.5" />
<line x1="1053.5" y1="159.2" x2="1037.3" y2="166.1" stroke="#555553" stroke-width="1.5" />
<line x1="1055.4" y1="160.4" x2="1041.7" y2="166.3" stroke="#5e3a22" stroke-width="1.5" />
<line x1="1060.3" y1="160.4" x2="1044.2" y2="167.3" stroke="#555553" stroke-width="1.5" />
<line x1="1067.1" y1="161.5" x2="1051.0" y2="168.5" stroke="#555553" stroke-width="1.5" />
<line x1="1069.1" y1="162.7" x2="1055.3" y2="168.7" stroke="#5e3a22" stroke-width="1.5" />
<line x1="1074.0" y1="162.7" x2="1057.8" y2="169.7" stroke="#555553" stroke-width="1.5" />
<line x1="1080.8" y1="163.8" x2="1064.7" y2="170.9" stroke="#555553" stroke-width="1.5" />
<line x1="1082.7" y1="165.0" x2="1069.0" y2="171.2" stroke="#5e3a22" stroke-width="1.5" />
<line x1="1087.6" y1="165.0" x2="1071.5" y2="172.2" stroke="#555553" stroke-width="1.5" />
<line x1="1094.4" y1="166.1" x2="1078.4" y2="173.4" stroke="#555553" stroke-width="1.5" />
<line x1="1096.4" y1="167.3" x2="1082.7" y2="173.6" stroke="#5e3a22" stroke-width="1.5" />
<line x1="1101.3" y1="167.2" x2="1085.2" y2="174.6" stroke="#555553" stroke-width="1.5" />
<line x1="1108.1" y1="168.4" x2="1092.0" y2="175.8" stroke="#555553" stroke-width="1.5" />
<line x1="1110.1" y1="169.6" x2="1096.4" y2="176.0" stroke="#5e3a22" stroke-width="1.5" />
<line x1="1114.9" y1="169.5" x2="1098.9" y2="177.0" stroke="#555553" stroke-width="1.5" />
<line x1="1121.8" y1="170.7" x2="1105.7" y2="178.3" stroke="#555553" stroke-width="1.5" />
<line x1="1123.7" y1="171.9" x2="1110.1" y2="178.4" stroke="#5e3a22" stroke-width="1.5" />
<line x1="1128.6" y1="171.8" x2="1112.6" y2="179.5" stroke="#555553" stroke-width="1.5" />
<line x1="713.5" y1="125.4" x2="1168.7" y2="211.7" stroke="#161616" stroke-width="2.3" />
<line x1="756.0" y1="135.0" x2="1165.0" y2="215.0" stroke="#c4c6c3" stroke-width="1.2" />
<line x1="661.3" y1="112.8" x2="680.3" y2="117.5" stroke="#555" stroke-width="0.6" />
<polyline points="661.3,112.8 712.6,101.5 1226.4,187.5 1169.7,211.4" fill="none" stroke="#555" stroke-width="0.6" />
<polygon points="1169.7,211.4 1226.4,187.5 1226.4,189.1 1169.7,213.2" fill="#c9cbc7" stroke="#555" stroke-width="0.4" />
<polygon points="619.5,119.4 661.3,112.8 680.0,117.8 628.0,128.0" fill="#7d7f7b" />
<line x1="619.5" y1="119.4" x2="628.0" y2="128.0" stroke="#151515" stroke-width="1.9" />
<line x1="619.5" y1="119.6" x2="662.0" y2="112.9" stroke="#2a2a2a" stroke-width="1.0" />
<line x1="624.0" y1="121.6" x2="672.0" y2="115.8" stroke="#3a3a3a" stroke-width="0.9" />
<line x1="628.0" y1="127.6" x2="680.0" y2="117.6" stroke="#2a2a2a" stroke-width="1.1" />
<line x1="661.3" y1="112.8" x2="680.0" y2="117.8" stroke="#3a3a3a" stroke-width="0.9" />
<line x1="629.0" y1="128.8" x2="680.0" y2="118.8" stroke="#d4d4d2" stroke-width="0.8" />
<polygon points="592.3,152.0 632.7,143.0 670.0,151.4 714.5,143.0 761.1,147.8 653.4,170.6" fill="#7d7f7b" />
<polygon points="560.2,158.8 592.3,152.0 653.4,170.6 626.5,177.9" fill="#4a3322" />
<line x1="562.5" y1="158.3" x2="628.4" y2="177.4" stroke="#171412" stroke-width="0.9" />
<line x1="567.1" y1="157.3" x2="632.3" y2="176.3" stroke="#171412" stroke-width="0.9" />
<line x1="571.7" y1="156.4" x2="636.1" y2="175.3" stroke="#171412" stroke-width="0.9" />
<line x1="576.2" y1="155.4" x2="640.0" y2="174.2" stroke="#171412" stroke-width="0.9" />
<line x1="580.8" y1="154.4" x2="643.8" y2="173.2" stroke="#171412" stroke-width="0.9" />
<line x1="585.4" y1="153.5" x2="647.6" y2="172.2" stroke="#171412" stroke-width="0.9" />
<line x1="590.0" y1="152.5" x2="651.5" y2="171.1" stroke="#171412" stroke-width="0.9" />
<polygon points="560.2,158.8 626.5,177.9 627.9,208.9 563.3,187.2" fill="#2a2826" />
<line x1="561.4" y1="159.1" x2="564.5" y2="187.6" stroke="#a3632d" stroke-width="1.790099999999999" />
<line x1="563.5" y1="159.8" x2="566.5" y2="188.3" stroke="#949ca3" stroke-width="1.392299999999999" />
<line x1="565.5" y1="160.3" x2="568.5" y2="188.9" stroke="#7f868c" stroke-width="1.3259999999999992" />
<line x1="568.0" y1="161.1" x2="570.9" y2="189.8" stroke="#a3632d" stroke-width="1.790099999999999" />
<line x1="570.1" y1="161.7" x2="573.0" y2="190.5" stroke="#949ca3" stroke-width="1.392299999999999" />
<line x1="572.1" y1="162.2" x2="574.9" y2="191.1" stroke="#7f868c" stroke-width="1.3259999999999992" />
<line x1="574.7" y1="163.0" x2="577.4" y2="191.9" stroke="#a3632d" stroke-width="1.790099999999999" />
<line x1="576.8" y1="163.6" x2="579.4" y2="192.6" stroke="#949ca3" stroke-width="1.392299999999999" />
<line x1="578.8" y1="164.1" x2="581.4" y2="193.3" stroke="#7f868c" stroke-width="1.3259999999999992" />
<line x1="581.3" y1="164.9" x2="583.8" y2="194.1" stroke="#a3632d" stroke-width="1.790099999999999" />
<line x1="583.4" y1="165.5" x2="585.9" y2="194.8" stroke="#949ca3" stroke-width="1.392299999999999" />
<line x1="585.4" y1="166.1" x2="587.8" y2="195.4" stroke="#7f868c" stroke-width="1.3259999999999992" />
<line x1="587.9" y1="166.8" x2="590.3" y2="196.3" stroke="#a3632d" stroke-width="1.790099999999999" />
<line x1="590.0" y1="167.4" x2="592.4" y2="197.0" stroke="#949ca3" stroke-width="1.392299999999999" />
<line x1="592.0" y1="168.0" x2="594.3" y2="197.6" stroke="#7f868c" stroke-width="1.3259999999999992" />
<line x1="594.5" y1="168.7" x2="596.8" y2="198.4" stroke="#a3632d" stroke-width="1.790099999999999" />
<line x1="596.7" y1="169.3" x2="598.8" y2="199.1" stroke="#949ca3" stroke-width="1.392299999999999" />
<line x1="598.7" y1="169.9" x2="600.8" y2="199.8" stroke="#7f868c" stroke-width="1.3259999999999992" />
<line x1="601.2" y1="170.6" x2="603.2" y2="200.6" stroke="#a3632d" stroke-width="1.790099999999999" />
<line x1="603.3" y1="171.2" x2="605.3" y2="201.3" stroke="#949ca3" stroke-width="1.392299999999999" />
<line x1="605.3" y1="171.8" x2="607.2" y2="202.0" stroke="#7f868c" stroke-width="1.3259999999999992" />
<line x1="607.8" y1="172.5" x2="609.7" y2="202.8" stroke="#a3632d" stroke-width="1.790099999999999" />
<line x1="609.9" y1="173.1" x2="611.8" y2="203.5" stroke="#949ca3" stroke-width="1.392299999999999" />
<line x1="611.9" y1="173.7" x2="613.7" y2="204.1" stroke="#7f868c" stroke-width="1.3259999999999992" />
<line x1="614.4" y1="174.4" x2="616.1" y2="205.0" stroke="#a3632d" stroke-width="1.790099999999999" />
<line x1="616.6" y1="175.0" x2="618.2" y2="205.6" stroke="#949ca3" stroke-width="1.392299999999999" />
<line x1="618.5" y1="175.6" x2="620.1" y2="206.3" stroke="#7f868c" stroke-width="1.3259999999999992" />
<line x1="621.1" y1="176.3" x2="622.6" y2="207.1" stroke="#a3632d" stroke-width="1.790099999999999" />
<line x1="623.2" y1="176.9" x2="624.7" y2="207.8" stroke="#949ca3" stroke-width="1.392299999999999" />
<line x1="625.2" y1="177.5" x2="626.6" y2="208.5" stroke="#7f868c" stroke-width="1.3259999999999992" />
<polygon points="626.5,177.9 628.7,177.4 630.2,208.4 627.9,208.9" fill="#e2e2e0" stroke="#555" stroke-width="0.4" />
<polygon points="626.5,177.9 761.1,147.8 761.1,149.0 626.7,179.2" fill="#cfcfcd" />
<line x1="626.7" y1="179.4" x2="761.1" y2="149.2" stroke="#555" stroke-width="0.5" />
<polyline points="592.3,152.0 632.7,143.0 670.0,151.4 714.5,143.0 761.1,147.8" fill="none" stroke="#555" stroke-width="0.5" />
<polygon points="753.9,150.8 757.6,150.0 758.8,186.7 756.0,186.2" fill="#8a8c88" />
<polygon points="757.6,150.0 762.2,149.0 762.6,187.2 758.8,186.7" fill="#c9cbc7" />
<polyline points="753.9,150.8 756.0,186.2 762.6,187.2 762.2,149.0" fill="none" stroke="#555" stroke-width="0.5" />
<polygon points="469.5,131.0 535.7,118.7 619.1,139.0 573.8,148.7 526.6,135.4 502.2,141.0" fill="#7d7f7b" />
<polygon points="502.2,141.0 526.6,135.4 573.8,148.7 547.5,154.4" fill="#4a3322" />
<line x1="504.2" y1="140.5" x2="549.7" y2="153.9" stroke="#171412" stroke-width="0.9" />
<line x1="508.3" y1="139.6" x2="554.1" y2="153.0" stroke="#171412" stroke-width="0.9" />
<line x1="512.4" y1="138.7" x2="558.5" y2="152.0" stroke="#171412" stroke-width="0.9" />
<line x1="516.4" y1="137.7" x2="562.8" y2="151.1" stroke="#171412" stroke-width="0.9" />
<line x1="520.5" y1="136.8" x2="567.2" y2="150.1" stroke="#171412" stroke-width="0.9" />
<line x1="524.6" y1="135.9" x2="571.6" y2="149.2" stroke="#171412" stroke-width="0.9" />
<polygon points="469.5,131.0 502.2,141.2 504.0,166.2 472.3,154.4" fill="#b7b9b5" stroke="#8a8c88" stroke-width="0.5" />
<polygon points="502.2,141.2 547.5,154.4 549.3,181.6 504.0,166.2" fill="#2a2826" />
<line x1="503.4" y1="141.5" x2="505.2" y2="166.6" stroke="#a3632d" stroke-width="1.747285714285715" />
<line x1="505.4" y1="142.1" x2="507.2" y2="167.3" stroke="#949ca3" stroke-width="1.3590000000000004" />
<line x1="507.4" y1="142.7" x2="509.2" y2="168.0" stroke="#7f868c" stroke-width="1.2942857142857147" />
<line x1="509.8" y1="143.4" x2="511.6" y2="168.8" stroke="#a3632d" stroke-width="1.747285714285715" />
<line x1="511.9" y1="144.0" x2="513.7" y2="169.5" stroke="#949ca3" stroke-width="1.3590000000000004" />
<line x1="513.8" y1="144.6" x2="515.6" y2="170.2" stroke="#7f868c" stroke-width="1.2942857142857147" />
<line x1="516.3" y1="145.3" x2="518.1" y2="171.0" stroke="#a3632d" stroke-width="1.747285714285715" />
<line x1="518.4" y1="145.9" x2="520.2" y2="171.7" stroke="#949ca3" stroke-width="1.3590000000000004" />
<line x1="520.3" y1="146.5" x2="522.1" y2="172.4" stroke="#7f868c" stroke-width="1.2942857142857147" />
<line x1="522.8" y1="147.2" x2="524.6" y2="173.2" stroke="#a3632d" stroke-width="1.747285714285715" />
<line x1="524.9" y1="147.8" x2="526.6" y2="173.9" stroke="#949ca3" stroke-width="1.3590000000000004" />
<line x1="526.8" y1="148.4" x2="528.6" y2="174.6" stroke="#7f868c" stroke-width="1.2942857142857147" />
<line x1="529.3" y1="149.1" x2="531.1" y2="175.4" stroke="#a3632d" stroke-width="1.747285714285715" />
<line x1="531.3" y1="149.7" x2="533.1" y2="176.1" stroke="#949ca3" stroke-width="1.3590000000000004" />
<line x1="533.3" y1="150.3" x2="535.1" y2="176.8" stroke="#7f868c" stroke-width="1.2942857142857147" />
<line x1="535.7" y1="151.0" x2="537.5" y2="177.6" stroke="#a3632d" stroke-width="1.747285714285715" />
<line x1="537.8" y1="151.6" x2="539.6" y2="178.3" stroke="#949ca3" stroke-width="1.3590000000000004" />
<line x1="539.7" y1="152.1" x2="541.5" y2="179.0" stroke="#7f868c" stroke-width="1.2942857142857147" />
<line x1="542.2" y1="152.9" x2="544.0" y2="179.8" stroke="#a3632d" stroke-width="1.747285714285715" />
<line x1="544.3" y1="153.5" x2="546.1" y2="180.5" stroke="#949ca3" stroke-width="1.3590000000000004" />
<line x1="546.2" y1="154.0" x2="548.0" y2="181.2" stroke="#7f868c" stroke-width="1.2942857142857147" />
<polygon points="547.5,154.4 549.7,154.0 551.6,181.0 549.3,181.6" fill="#e2e2e0" stroke="#555" stroke-width="0.4" />
<polygon points="547.5,154.4 619.1,139.0 619.1,140.2 547.7,155.6" fill="#d2d2d0" />
<line x1="547.7" y1="155.8" x2="619.1" y2="140.4" stroke="#555" stroke-width="0.5" />
<line x1="535.7" y1="118.9" x2="596.0" y2="134.6" stroke="#151515" stroke-width="1.6" />
<polyline points="469.5,131.0 535.7,118.7" fill="none" stroke="#444" stroke-width="0.6" />
<line x1="637.0" y1="52.7" x2="637.3" y2="57.7" stroke="#54301a" stroke-width="2.4" />
<line x1="642.5" y1="51.8" x2="642.8" y2="58.8" stroke="#54301a" stroke-width="2.4" />
<line x1="663.0" y1="48.7" x2="663.3" y2="54.7" stroke="#54301a" stroke-width="2.4" />
<line x1="668.5" y1="47.9" x2="668.8" y2="55.9" stroke="#54301a" stroke-width="2.4" />
<line x1="688.5" y1="44.9" x2="688.8" y2="51.9" stroke="#54301a" stroke-width="2.4" />
<line x1="694.5" y1="44.0" x2="694.8" y2="53.0" stroke="#54301a" stroke-width="2.4" />
<line x1="699.0" y1="43.3" x2="699.3" y2="49.3" stroke="#54301a" stroke-width="2.4" />
<line x1="706.0" y1="42.3" x2="706.3" y2="52.3" stroke="#54301a" stroke-width="2.4" />
<line x1="709.5" y1="41.7" x2="709.8" y2="49.7" stroke="#54301a" stroke-width="2.4" />
<line x1="713.0" y1="41.2" x2="713.3" y2="53.2" stroke="#54301a" stroke-width="2.4" />
<line x1="716.0" y1="40.8" x2="716.3" y2="49.8" stroke="#54301a" stroke-width="2.4" />
<line x1="719.5" y1="40.2" x2="719.8" y2="52.2" stroke="#54301a" stroke-width="2.4" />
<line x1="723.0" y1="39.7" x2="723.3" y2="52.7" stroke="#54301a" stroke-width="2.4" />
<line x1="726.5" y1="39.2" x2="726.8" y2="49.2" stroke="#54301a" stroke-width="2.4" />
<line x1="730.0" y1="38.6" x2="730.3" y2="52.6" stroke="#54301a" stroke-width="2.4" />
<line x1="733.5" y1="38.1" x2="733.8" y2="50.1" stroke="#54301a" stroke-width="2.4" />
<line x1="737.0" y1="37.6" x2="737.3" y2="48.6" stroke="#54301a" stroke-width="2.4" />
<line x1="740.5" y1="37.1" x2="740.8" y2="51.1" stroke="#54301a" stroke-width="2.4" />
<line x1="744.5" y1="36.5" x2="744.8" y2="48.5" stroke="#54301a" stroke-width="2.4" />
<line x1="747.5" y1="36.0" x2="747.8" y2="50.0" stroke="#54301a" stroke-width="2.4" />
<line x1="749.0" y1="36.1" x2="749.0" y2="57.5" stroke="#4f2d16" stroke-width="1.5" />
<line x1="750.7" y1="36.1" x2="750.7" y2="57.5" stroke="#8a5428" stroke-width="2.2" />
<line x1="754.0" y1="35.4" x2="754.0" y2="58.1" stroke="#4f2d16" stroke-width="1.5" />
<line x1="755.7" y1="35.4" x2="755.7" y2="58.1" stroke="#8a5428" stroke-width="2.2" />
<line x1="759.1" y1="34.6" x2="759.1" y2="58.6" stroke="#4f2d16" stroke-width="1.5" />
<line x1="760.8" y1="34.6" x2="760.8" y2="58.6" stroke="#8a5428" stroke-width="2.2" />
<line x1="764.1" y1="33.8" x2="764.1" y2="59.2" stroke="#4f2d16" stroke-width="1.5" />
<line x1="765.8" y1="33.8" x2="765.8" y2="59.2" stroke="#8a5428" stroke-width="2.2" />
<line x1="769.2" y1="33.1" x2="769.2" y2="59.8" stroke="#4f2d16" stroke-width="1.5" />
<line x1="770.9" y1="33.1" x2="770.9" y2="59.8" stroke="#8a5428" stroke-width="2.2" />
<line x1="774.2" y1="32.3" x2="774.2" y2="60.3" stroke="#4f2d16" stroke-width="1.5" />
<line x1="775.9" y1="32.3" x2="775.9" y2="60.3" stroke="#8a5428" stroke-width="2.2" />
<line x1="779.3" y1="31.6" x2="779.3" y2="60.9" stroke="#4f2d16" stroke-width="1.5" />
<line x1="781.0" y1="31.6" x2="781.0" y2="60.9" stroke="#8a5428" stroke-width="2.2" />
<line x1="784.3" y1="30.8" x2="784.3" y2="61.5" stroke="#4f2d16" stroke-width="1.5" />
<line x1="786.0" y1="30.8" x2="786.0" y2="61.5" stroke="#8a5428" stroke-width="2.2" />
<line x1="789.3" y1="30.0" x2="789.3" y2="62.0" stroke="#4f2d16" stroke-width="1.5" />
<line x1="791.0" y1="30.0" x2="791.0" y2="62.0" stroke="#8a5428" stroke-width="2.2" />
<line x1="794.4" y1="29.3" x2="794.4" y2="62.6" stroke="#4f2d16" stroke-width="1.5" />
<line x1="796.1" y1="29.3" x2="796.1" y2="62.6" stroke="#8a5428" stroke-width="2.2" />
<line x1="799.4" y1="28.5" x2="799.4" y2="63.2" stroke="#4f2d16" stroke-width="1.5" />
<line x1="801.1" y1="28.5" x2="801.1" y2="63.2" stroke="#8a5428" stroke-width="2.2" />
<line x1="804.5" y1="27.8" x2="804.5" y2="63.7" stroke="#4f2d16" stroke-width="1.5" />
<line x1="806.2" y1="27.8" x2="806.2" y2="63.7" stroke="#8a5428" stroke-width="2.2" />
<line x1="809.5" y1="27.0" x2="809.5" y2="64.3" stroke="#4f2d16" stroke-width="1.5" />
<line x1="811.2" y1="27.0" x2="811.2" y2="64.3" stroke="#8a5428" stroke-width="2.2" />
<line x1="814.6" y1="26.2" x2="814.6" y2="64.8" stroke="#4f2d16" stroke-width="1.5" />
<line x1="816.3" y1="26.2" x2="816.3" y2="64.8" stroke="#8a5428" stroke-width="2.2" />
<line x1="819.6" y1="25.5" x2="819.6" y2="65.4" stroke="#4f2d16" stroke-width="1.5" />
<line x1="821.3" y1="25.5" x2="821.3" y2="65.4" stroke="#8a5428" stroke-width="2.2" />
<line x1="824.7" y1="24.7" x2="824.7" y2="66.0" stroke="#4f2d16" stroke-width="1.5" />
<line x1="826.4" y1="24.7" x2="826.4" y2="66.0" stroke="#8a5428" stroke-width="2.2" />
<line x1="829.7" y1="24.0" x2="829.7" y2="66.5" stroke="#4f2d16" stroke-width="1.5" />
<line x1="831.4" y1="24.0" x2="831.4" y2="66.5" stroke="#8a5428" stroke-width="2.2" />
<line x1="834.7" y1="23.2" x2="834.7" y2="67.1" stroke="#4f2d16" stroke-width="1.5" />
<line x1="836.4" y1="23.2" x2="836.4" y2="67.1" stroke="#8a5428" stroke-width="2.2" />
<line x1="839.8" y1="22.5" x2="839.8" y2="67.7" stroke="#4f2d16" stroke-width="1.5" />
<line x1="841.5" y1="22.5" x2="841.5" y2="67.7" stroke="#8a5428" stroke-width="2.2" />
<line x1="844.8" y1="21.7" x2="844.8" y2="68.2" stroke="#4f2d16" stroke-width="1.5" />
<line x1="846.5" y1="21.7" x2="846.5" y2="68.2" stroke="#8a5428" stroke-width="2.2" />
<line x1="849.9" y1="20.9" x2="849.9" y2="68.8" stroke="#4f2d16" stroke-width="1.5" />
<line x1="851.6" y1="20.9" x2="851.6" y2="68.8" stroke="#8a5428" stroke-width="2.2" />
<line x1="854.9" y1="20.2" x2="854.9" y2="69.4" stroke="#4f2d16" stroke-width="1.5" />
<line x1="856.6" y1="20.2" x2="856.6" y2="69.4" stroke="#8a5428" stroke-width="2.2" />
<line x1="860.0" y1="19.4" x2="860.0" y2="69.9" stroke="#4f2d16" stroke-width="1.5" />
<line x1="861.7" y1="19.4" x2="861.7" y2="69.9" stroke="#8a5428" stroke-width="2.2" />
<line x1="865.0" y1="18.7" x2="865.0" y2="70.5" stroke="#4f2d16" stroke-width="1.5" />
<line x1="866.7" y1="18.7" x2="866.7" y2="70.5" stroke="#8a5428" stroke-width="2.2" />
<line x1="616.3" y1="56.1" x2="618.9" y2="91.0" stroke="#4a2a14" stroke-width="1.5" />
<line x1="618.0" y1="56.1" x2="620.6" y2="91.0" stroke="#925c2c" stroke-width="2.1" />
<line x1="625.9" y1="54.7" x2="628.4" y2="90.2" stroke="#4a2a14" stroke-width="1.5" />
<line x1="627.6" y1="54.7" x2="630.1" y2="90.2" stroke="#925c2c" stroke-width="2.1" />
<line x1="635.5" y1="53.2" x2="637.9" y2="89.4" stroke="#4a2a14" stroke-width="1.5" />
<line x1="637.2" y1="53.2" x2="639.6" y2="89.4" stroke="#925c2c" stroke-width="2.1" />
<line x1="645.1" y1="51.8" x2="647.4" y2="88.5" stroke="#4a2a14" stroke-width="1.5" />
<line x1="646.8" y1="51.8" x2="649.1" y2="88.5" stroke="#925c2c" stroke-width="2.1" />
<line x1="654.7" y1="50.3" x2="656.9" y2="87.7" stroke="#4a2a14" stroke-width="1.5" />
<line x1="656.4" y1="50.3" x2="658.6" y2="87.7" stroke="#925c2c" stroke-width="2.1" />
<line x1="664.3" y1="48.9" x2="666.4" y2="86.9" stroke="#4a2a14" stroke-width="1.5" />
<line x1="666.0" y1="48.9" x2="668.1" y2="86.9" stroke="#925c2c" stroke-width="2.1" />
<line x1="673.9" y1="47.4" x2="675.9" y2="86.1" stroke="#4a2a14" stroke-width="1.5" />
<line x1="675.6" y1="47.4" x2="677.6" y2="86.1" stroke="#925c2c" stroke-width="2.1" />
<line x1="682.7" y1="46.1" x2="684.7" y2="85.3" stroke="#4a2a14" stroke-width="1.5" />
<line x1="684.4" y1="46.1" x2="686.4" y2="85.3" stroke="#925c2c" stroke-width="2.1" />
<line x1="691.4" y1="44.8" x2="693.3" y2="84.6" stroke="#4a2a14" stroke-width="1.5" />
<line x1="693.1" y1="44.8" x2="695.0" y2="84.6" stroke="#925c2c" stroke-width="2.1" />
<line x1="700.1" y1="43.5" x2="701.9" y2="83.9" stroke="#4a2a14" stroke-width="1.5" />
<line x1="701.8" y1="43.5" x2="703.6" y2="83.9" stroke="#925c2c" stroke-width="2.1" />
<line x1="708.6" y1="42.2" x2="710.3" y2="83.1" stroke="#4a2a14" stroke-width="1.5" />
<line x1="710.3" y1="42.2" x2="712.0" y2="83.1" stroke="#925c2c" stroke-width="2.1" />
<line x1="716.9" y1="41.0" x2="718.5" y2="82.4" stroke="#4a2a14" stroke-width="1.5" />
<line x1="718.6" y1="41.0" x2="720.2" y2="82.4" stroke="#925c2c" stroke-width="2.1" />
<line x1="725.1" y1="39.7" x2="726.7" y2="81.7" stroke="#4a2a14" stroke-width="1.5" />
<line x1="726.8" y1="39.7" x2="728.4" y2="81.7" stroke="#925c2c" stroke-width="2.1" />
<line x1="733.4" y1="38.5" x2="734.9" y2="81.0" stroke="#4a2a14" stroke-width="1.5" />
<line x1="735.1" y1="38.5" x2="736.6" y2="81.0" stroke="#925c2c" stroke-width="2.1" />
<line x1="741.8" y1="37.2" x2="743.2" y2="80.3" stroke="#4a2a14" stroke-width="1.5" />
<line x1="743.5" y1="37.2" x2="744.9" y2="80.3" stroke="#925c2c" stroke-width="2.1" />
<polygon points="480.0,39.5 611.0,57.2 616.0,91.5 482.4,66.5" fill="#140d08" />
<line x1="482.0" y1="39.8" x2="484.4" y2="66.9" stroke="#c5813d" stroke-width="2.0" />
<line x1="486.0" y1="40.3" x2="488.5" y2="67.6" stroke="#c5813d" stroke-width="2.0" />
<line x1="489.9" y1="40.8" x2="492.5" y2="68.4" stroke="#c5813d" stroke-width="2.0" />
<line x1="493.9" y1="41.4" x2="496.6" y2="69.2" stroke="#c5813d" stroke-width="2.0" />
<line x1="497.9" y1="41.9" x2="500.6" y2="69.9" stroke="#c5813d" stroke-width="2.0" />
<line x1="501.8" y1="42.5" x2="504.7" y2="70.7" stroke="#c5813d" stroke-width="2.0" />
<line x1="505.8" y1="43.0" x2="508.7" y2="71.4" stroke="#c5813d" stroke-width="2.0" />
<line x1="509.8" y1="43.5" x2="512.8" y2="72.2" stroke="#c5813d" stroke-width="2.0" />
<line x1="513.7" y1="44.1" x2="516.8" y2="72.9" stroke="#c5813d" stroke-width="2.0" />
<line x1="517.7" y1="44.6" x2="520.9" y2="73.7" stroke="#c5813d" stroke-width="2.0" />
<line x1="521.7" y1="45.1" x2="524.9" y2="74.5" stroke="#c5813d" stroke-width="2.0" />
<line x1="525.7" y1="45.7" x2="529.0" y2="75.2" stroke="#c5813d" stroke-width="2.0" />
<line x1="529.6" y1="46.2" x2="533.0" y2="76.0" stroke="#c5813d" stroke-width="2.0" />
<line x1="533.6" y1="46.7" x2="537.1" y2="76.7" stroke="#c5813d" stroke-width="2.0" />
<line x1="537.6" y1="47.3" x2="541.1" y2="77.5" stroke="#c5813d" stroke-width="2.0" />
<line x1="541.5" y1="47.8" x2="545.2" y2="78.2" stroke="#c5813d" stroke-width="2.0" />
<line x1="545.5" y1="48.4" x2="549.2" y2="79.0" stroke="#c5813d" stroke-width="2.0" />
<line x1="549.5" y1="48.9" x2="553.2" y2="79.8" stroke="#c5813d" stroke-width="2.0" />
<line x1="553.4" y1="49.4" x2="557.3" y2="80.5" stroke="#c5813d" stroke-width="2.0" />
<line x1="557.4" y1="50.0" x2="561.3" y2="81.3" stroke="#c5813d" stroke-width="2.0" />
<line x1="561.4" y1="50.5" x2="565.4" y2="82.0" stroke="#c5813d" stroke-width="2.0" />
<line x1="565.3" y1="51.0" x2="569.4" y2="82.8" stroke="#c5813d" stroke-width="2.0" />
<line x1="569.3" y1="51.6" x2="573.5" y2="83.5" stroke="#c5813d" stroke-width="2.0" />
<line x1="573.3" y1="52.1" x2="577.5" y2="84.3" stroke="#c5813d" stroke-width="2.0" />
<line x1="577.3" y1="52.6" x2="581.6" y2="85.1" stroke="#c5813d" stroke-width="2.0" />
<line x1="581.2" y1="53.2" x2="585.6" y2="85.8" stroke="#c5813d" stroke-width="2.0" />
<line x1="585.2" y1="53.7" x2="589.7" y2="86.6" stroke="#c5813d" stroke-width="2.0" />
<line x1="589.2" y1="54.2" x2="593.7" y2="87.3" stroke="#c5813d" stroke-width="2.0" />
<line x1="593.1" y1="54.8" x2="597.8" y2="88.1" stroke="#c5813d" stroke-width="2.0" />
<line x1="597.1" y1="55.3" x2="601.8" y2="88.8" stroke="#c5813d" stroke-width="2.0" />
<line x1="601.1" y1="55.9" x2="605.9" y2="89.6" stroke="#c5813d" stroke-width="2.0" />
<line x1="605.0" y1="56.4" x2="609.9" y2="90.4" stroke="#c5813d" stroke-width="2.0" />
<line x1="609.0" y1="56.9" x2="614.0" y2="91.1" stroke="#c5813d" stroke-width="2.0" />
<polygon points="480.0,38.3 711.5,10.4 867.0,17.0 610.8,55.6" fill="#704a2a" />
<polygon points="480.0,38.3 610.8,55.6 610.8,57.6 480.0,40.1" fill="#a96b31" />
<polygon points="610.8,55.6 867.0,17.0 867.0,18.7 610.8,57.6" fill="#9a602d" />
<polyline points="480.0,38.3 610.8,55.6 867.0,17.0" fill="none" stroke="#3e2512" stroke-width="0.7" />
<polyline points="480.0,40.2 610.8,57.7 867.0,18.8" fill="none" stroke="#3e2512" stroke-width="0.5" />
<polyline points="480.0,38.3 711.5,10.4 867.0,17.0" fill="none" stroke="#5a3618" stroke-width="0.6" />
<line x1="480.0" y1="38.3" x2="482.4" y2="66.5" stroke="#3e2512" stroke-width="0.6" />
<clipPath id="hole"><polygon points="603.5,30.8 676.0,20.7 728.0,27.0 657.5,36.8"/></clipPath>
<polygon points="603.5,30.8 676.0,20.7 728.0,27.0 657.5,36.8" fill="#fff" />
<g clip-path="url(#hole)">
<line x1="612.0" y1="29.6" x2="612.0" y2="41.6" stroke="#8a5428" stroke-width="2.2" />
<line x1="617.8" y1="28.8" x2="617.8" y2="40.8" stroke="#8a5428" stroke-width="2.2" />
<line x1="623.6" y1="28.0" x2="623.6" y2="40.0" stroke="#8a5428" stroke-width="2.2" />
<line x1="629.4" y1="27.2" x2="629.4" y2="39.2" stroke="#8a5428" stroke-width="2.2" />
<line x1="635.2" y1="26.4" x2="635.2" y2="38.4" stroke="#8a5428" stroke-width="2.2" />
<line x1="641.0" y1="25.6" x2="641.0" y2="37.6" stroke="#8a5428" stroke-width="2.2" />
<line x1="646.8" y1="24.8" x2="646.8" y2="36.8" stroke="#8a5428" stroke-width="2.2" />
<line x1="652.6" y1="24.0" x2="652.6" y2="36.0" stroke="#8a5428" stroke-width="2.2" />
<line x1="658.4" y1="23.2" x2="658.4" y2="35.2" stroke="#8a5428" stroke-width="2.2" />
<line x1="664.2" y1="22.3" x2="664.2" y2="34.3" stroke="#8a5428" stroke-width="2.2" />
<line x1="670.0" y1="21.5" x2="670.0" y2="33.5" stroke="#8a5428" stroke-width="2.2" />
<line x1="675.8" y1="20.7" x2="675.8" y2="32.7" stroke="#8a5428" stroke-width="2.2" />
<line x1="681.0" y1="21.3" x2="681.0" y2="31.3" stroke="#8a5428" stroke-width="2.2" />
<line x1="686.6" y1="22.0" x2="686.6" y2="32.0" stroke="#8a5428" stroke-width="2.2" />
<line x1="692.2" y1="22.7" x2="692.2" y2="32.7" stroke="#8a5428" stroke-width="2.2" />
<line x1="697.8" y1="23.3" x2="697.8" y2="33.3" stroke="#8a5428" stroke-width="2.2" />
<line x1="703.4" y1="24.0" x2="703.4" y2="34.0" stroke="#8a5428" stroke-width="2.2" />
<line x1="709.0" y1="24.7" x2="709.0" y2="34.7" stroke="#8a5428" stroke-width="2.2" />
<line x1="714.6" y1="25.4" x2="714.6" y2="35.4" stroke="#8a5428" stroke-width="2.2" />
<line x1="720.2" y1="26.1" x2="720.2" y2="36.1" stroke="#8a5428" stroke-width="2.2" />
<line x1="725.8" y1="26.7" x2="725.8" y2="36.7" stroke="#8a5428" stroke-width="2.2" />
<polyline points="603.5,30.8 676.0,20.7 728.0,27.0" fill="none" stroke="#a5682f" stroke-width="3" />
</g>
<polyline points="603.5,30.8 676.0,20.7 728.0,27.0 657.5,36.8 603.5,30.8" fill="none" stroke="#4a2c14" stroke-width="0.7" />
<line x1="539.0" y1="42.3" x2="618.5" y2="32.6" stroke="#2e1a0c" stroke-width="1.6" stroke-dasharray="3 1"/>
<line x1="572.8" y1="27.2" x2="603.0" y2="30.6" stroke="#2e1a0c" stroke-width="1.8" />
<line x1="742.5" y1="26.0" x2="791.0" y2="28.6" stroke="#2e1a0c" stroke-width="1.8" stroke-dasharray="3 1"/>
<line x1="727.0" y1="27.0" x2="742.5" y2="26.0" stroke="#4a2c14" stroke-width="0.7" />
<polygon points="720.0,14.6 729.0,13.2 809.0,16.2 800.0,17.8" fill="#8a5a30" stroke="#3a2210" stroke-width="0.8" />
<line x1="601.0" y1="30.2" x2="676.0" y2="20.6" stroke="#55321a" stroke-width="0.8" />
<g font-family="'Liberation Sans', sans-serif" fill="#1e1e1e" stroke="#fff" stroke-width="0.25">
<text transform="translate(5.4 65.3) scale(1.341 1)" font-size="22.6" letter-spacing="0.00">birleştirici ahşap örtü</text>
<text transform="translate(45.8 158.7) scale(1.354 1)" font-size="22.6" letter-spacing="0.00">betonarme kabuk</text>
<rect x="38" y="323.0" width="55.2" height="24" fill="#24112f" stroke="none"/>
<rect x="38" y="356.0" width="55.2" height="24" fill="#635b46" stroke="none"/>
<rect x="38" y="389.0" width="55.2" height="24" fill="#e6e5d3" stroke="none"/>
<rect x="38" y="422.5" width="55.2" height="24" fill="#f09b22" stroke="none"/>
<rect x="38" y="456.0" width="55.2" height="24" fill="#d0340c" stroke="none"/>
<rect x="38" y="487.5" width="55.2" height="24" fill="#b3094d" stroke="none"/>
<rect x="38" y="521.0" width="55.2" height="24" fill="#7ffbe3" stroke="none"/>
<rect x="38" y="552.5" width="55.2" height="24" fill="#babb7c" stroke="none"/>
<text transform="translate(109.3 341.6) scale(1.327 1)" font-size="18.5" letter-spacing="0.00">giriş</text>
<text transform="translate(108.0 374.4) scale(1.315 1)" font-size="18.5" letter-spacing="-0.00">iş ve meslek eğitim bölümleri</text>
<text transform="translate(104.6 408.2) scale(1.329 1)" font-size="18.5" letter-spacing="0.00">destek eğitim bölümleri</text>
<text transform="translate(104.1 440.7) scale(1.316 1)" font-size="18.5" letter-spacing="0.00">ortak tesisler</text>
<text transform="translate(104.6 476.2) scale(1.290 1)" font-size="18.5" letter-spacing="-0.00">sağlık ünitesi</text>
<text transform="translate(105.0 507.0) scale(1.312 1)" font-size="18.5" letter-spacing="0.00">misafirhane</text>
<text transform="translate(105.4 540.8) scale(1.332 1)" font-size="18.5" letter-spacing="0.00">idari bölüm</text>
<text transform="translate(105.4 570.5) scale(1.323 1)" font-size="18.5" letter-spacing="0.00">sosyal eğitim bölümü</text>
<text transform="translate(566.6 228.0) scale(1.350 1)" font-size="18" letter-spacing="0.00">+8,00</text>
<text transform="translate(475.5 303.8) scale(1.361 1)" font-size="18" letter-spacing="0.00">+4,00</text>
<text transform="translate(482.7 398.8) scale(1.313 1)" font-size="18" letter-spacing="0.00">0,00</text>
<text transform="translate(1133.6 342.8) scale(1.327 1)" font-size="18" letter-spacing="0.00">8,00</text>
<text transform="translate(1133.4 442.8) scale(1.327 1)" font-size="18" letter-spacing="0.00">4,00</text>
<text transform="translate(1133.4 564.2) scale(1.327 1)" font-size="18" letter-spacing="0.00">0,00</text>
</g>
<line x1="288.7" y1="58.1" x2="480.5" y2="58.1" stroke="#1c1c1c" stroke-width="1.7" />
<line x1="288.7" y1="150.3" x2="471.7" y2="150.3" stroke="#1c1c1c" stroke-width="1.7" />
<rect x="1192.9" y="521.3" width="55.3" height="26.3" fill="#4a4a4a" stroke="#7a7a7a" stroke-width="0.8"/>
<g stroke="#222" stroke-width="1.6" fill="none">
<rect x="1192" y="520.3" width="113.3" height="56.7"/>
<line x1="1249" y1="520.3" x2="1249" y2="577"/>
<line x1="1192" y1="548.4" x2="1305.3" y2="548.4"/>
</g>
</svg></body></html>
